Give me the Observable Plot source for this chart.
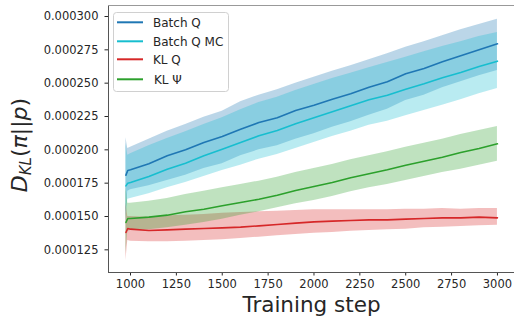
<!DOCTYPE html>
<html><head><meta charset="utf-8">
<script src="https://cdn.jsdelivr.net/npm/d3@7"></script>
<script src="https://cdn.jsdelivr.net/npm/@observablehq/plot@0.6"></script>
<style>body{margin:0;background:#fff} #chart{width:514px;height:318px}</style>
</head><body><div id="chart"></div>
<script>
// values in units of 1e-6
const UNIT = 1e-6;
const steps = [975, 985, 1000, 1100, 1200, 1300, 1400, 1500, 1600, 1700, 1800, 1900, 2000, 2100, 2200, 2300, 2400, 2500, 2600, 2700, 2800, 2900, 3000];

const seriesNames = ["Batch Q", "Batch Q MC", "KL Q", "KL \u03A8"];
const seriesColors = ["#1f77b4", "#17becf", "#d62728", "#2ca02c"];

const batchQMean = [181, 184.5, 185, 189.5, 195.5, 200, 205.5, 210, 215.5, 220.5, 224, 229.5, 233.5, 238, 242, 247, 251, 257, 261, 266, 270.5, 275, 279.5];
const batchQHi   = [209, 201, 202, 208, 214, 219, 224.5, 229, 236, 241, 245, 250, 254.5, 259, 263, 267.5, 272, 277, 281, 285.5, 290, 294, 298];
const batchQLo   = [150, 169, 170, 173, 177, 181, 186, 189.5, 195.5, 200, 203, 208, 212, 217, 221, 226, 230.5, 237, 241, 246.5, 251, 255.5, 259.5];

const batchQMCMean = [173, 175, 175.5, 180, 185.5, 190, 195.5, 200.5, 205.5, 210.5, 214.5, 219.5, 224, 228.5, 233, 237.5, 241, 245.5, 249.5, 254, 258, 262.5, 266.5];
const batchQMCHi   = [205, 196, 197, 203, 208.5, 213.5, 219, 224, 230, 235.5, 239.5, 244.5, 249, 253.5, 257.5, 261.5, 265.5, 269.5, 273.5, 277.5, 281, 285, 288];
const batchQMCLo   = [145, 163, 163.5, 167, 171.5, 175.5, 180, 184.5, 188.5, 193, 196.5, 201, 205.5, 210, 214, 218.5, 221.5, 225.5, 229.5, 233.5, 237.5, 242, 246];

const klQMean = [138, 141, 140.5, 139.5, 140, 140.5, 141, 141.5, 142, 143, 144, 145, 146, 146.5, 147, 147.5, 147.5, 148, 148.5, 149, 149, 149.5, 149];
const klQHi   = [160, 150, 150, 149.5, 150.5, 151, 151.5, 152.5, 153, 153.5, 154, 154.5, 155, 155, 155, 155, 155, 155.5, 155.5, 156, 155.5, 156, 156];
const klQLo   = [117, 132, 131.5, 131, 131, 131.5, 132, 132.5, 133.5, 134.5, 135.5, 136.5, 137.5, 138, 139, 139.5, 140, 140.5, 141.5, 142, 142.5, 143, 143.5];

const klPsiMean = [145.5, 148.5, 148.5, 149.5, 151, 153.5, 155.5, 158, 160.5, 163, 166, 169.5, 172.5, 175.5, 179, 182, 185, 188.5, 191.5, 194.5, 198, 201, 204.5];
const klPsiHi   = [172, 160, 160, 161.5, 163.5, 166.5, 169, 171.5, 174, 176.5, 179.5, 183, 186, 189, 192.5, 195.5, 198.5, 202, 205, 208, 211.5, 214.5, 217.5];
const klPsiLo   = [122, 139, 139.5, 140, 141.5, 143.5, 145.5, 148, 151, 153.5, 156.5, 159.5, 162, 165, 168.5, 171.5, 174, 177, 180, 183, 185.5, 188.5, 191.5];

const xTicks = [1000, 1250, 1500, 1750, 2000, 2250, 2500, 2750, 3000];
const yTicks = [0.000125, 0.000150, 0.000175, 0.000200, 0.000225, 0.000250, 0.000275, 0.000300];

const seriesData = [
  [batchQMean, batchQLo, batchQHi],
  [batchQMCMean, batchQMCLo, batchQMCHi],
  [klQMean, klQLo, klQHi],
  [klPsiMean, klPsiLo, klPsiHi]
];
const rows = seriesData.flatMap(([m, lo, hi], k) => steps.map((s, i) => ({
  series: seriesNames[k], step: s, mean: m[i] * UNIT, lo: lo[i] * UNIT, hi: hi[i] * UNIT
})));

const yMin = 0.000108, yMax = 0.00030825, xMin = 880, xMax = 3093;

const plot = Plot.plot({
  width: 514, height: 318,
  marginLeft: 108, marginRight: 0, marginTop: 5, marginBottom: 46,
  style: {fontFamily: "DejaVu Sans", fontSize: "11.5px", color: "#262626", background: "#fff"},
  x: {domain: [xMin, xMax], ticks: xTicks, tickFormat: d3.format("d"), tickSize: 3.5, tickPadding: 4, label: null},
  y: {domain: [yMin, yMax], ticks: yTicks, tickFormat: d3.format(".6f"), tickSize: 3.5, tickPadding: 6.5, label: null},
  color: {domain: seriesNames, range: seriesColors},
  marks: [
    Plot.areaY(rows, {x: "step", y1: "lo", y2: "hi", z: "series", fill: "series", fillOpacity: 0.3}),
    Plot.lineY(rows, {x: "step", y: "mean", z: "series", stroke: "series", strokeWidth: 1.6}),
    Plot.ruleX([xMin], {stroke: "#555"}),
    Plot.ruleY([yMin], {stroke: "#555"}),
    Plot.ruleY([yMax], {stroke: "#999"})
  ]
});
document.getElementById("chart").appendChild(plot);

const svg = d3.select(plot);
// y title
const yt = svg.append("text").attr("transform", "translate(27,145) rotate(-90)")
  .attr("text-anchor", "middle").attr("font-family", "DejaVu Sans").attr("font-size", 22).attr("fill", "#262626");
yt.append("tspan").attr("font-style", "italic").text("D");
yt.append("tspan").attr("font-style", "italic").attr("font-size", 15).attr("dy", 4).text("KL");
yt.append("tspan").attr("dy", -4).text("(");
yt.append("tspan").attr("font-style", "italic").text("\u03C0");
yt.append("tspan").text("||");
yt.append("tspan").attr("font-style", "italic").text("p");
yt.append("tspan").text(")");
// x title
svg.append("text").attr("x", 311.5).attr("y", 312).attr("text-anchor", "middle")
  .attr("font-family", "DejaVu Sans").attr("font-size", 21.5).attr("fill", "#262626").text("Training step");
// legend
const lg = svg.append("g");
lg.append("rect").attr("x", 113.5).attr("y", 12.5).attr("width", 115).attr("height", 79).attr("rx", 3)
  .attr("fill", "#fff").attr("fill-opacity", 0.85).attr("stroke", "#d0d0d0");
const rowsY = [22.3, 41.3, 59.3, 79.3];
seriesNames.forEach((n, i) => {
  lg.append("line").attr("x1", 117).attr("x2", 143).attr("y1", rowsY[i]).attr("y2", rowsY[i])
    .attr("stroke", seriesColors[i]).attr("stroke-width", 2);
  lg.append("text").attr("x", i === 3 ? 154 : 153).attr("y", rowsY[i]).attr("dy", "0.35em")
    .attr("text-anchor", "start")
    .attr("font-family", "DejaVu Sans").attr("font-size", 12).attr("fill", "#262626").text(n);
});
</script>
</body></html>
